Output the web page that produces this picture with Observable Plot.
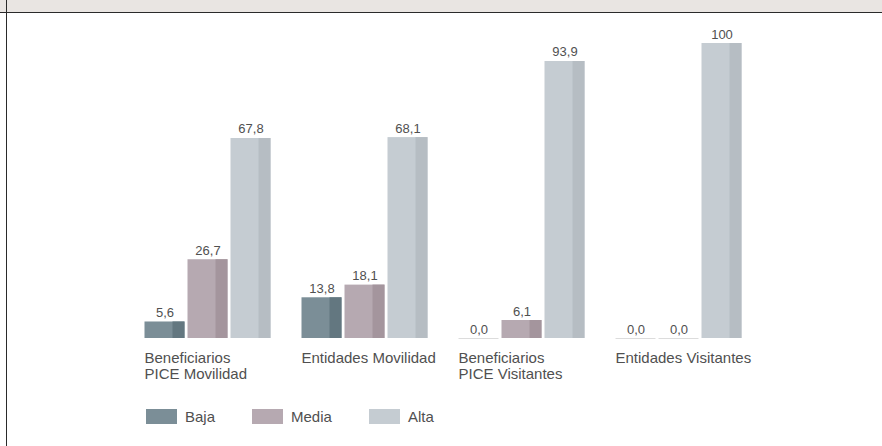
<!DOCTYPE html>
<html>
<head>
<meta charset="utf-8">
<script src="https://cdn.jsdelivr.net/npm/d3@7"></script>
<script src="https://cdn.jsdelivr.net/npm/@observablehq/plot@0.6"></script>
<style>
  html, body { margin: 0; padding: 0; background: #fff; }
  #wrap { position: relative; width: 882px; height: 446px; overflow: hidden; font-family: "Liberation Sans", Arial, Helvetica, sans-serif; }
  #header { position: absolute; left: 0; top: 0; width: 882px; height: 12px; background: #e9e5e2; border-bottom: 1.5px solid #2a2a2a; }
  #lborder { position: absolute; left: 5.5px; top: 0; width: 1.5px; height: 446px; background: #2a2a2a; }
  #chart { position: absolute; left: 0; top: 0; }
  #legend { position: absolute; left: 146px; top: 409px; display: flex; align-items: center; }
  .item { display: flex; align-items: center; margin-right: 37px; }
  .sw { width: 31px; height: 15px; margin-right: 8px; }
  .lab { font-size: 15px; color: #505050; line-height: 15px; }
</style>
</head>
<body>
<div id="wrap">
  <div id="header"></div>
  <div id="lborder"></div>
  <div id="chart"></div>
  <div id="legend"></div>
</div>
<script>
const categories = ["Beneficiarios\nPICE Movilidad", "Entidades Movilidad", "Beneficiarios\nPICE Visitantes", "Entidades Visitantes"];
const levels = ["Baja", "Media", "Alta"];
const baja = [5.6, 13.8, 0.0, 0.0];
const media = [26.7, 18.1, 6.1, 0.0];
const alta = [67.8, 68.1, 93.9, 100];
const lightColors = ["#7b8e97", "#b6a9b1", "#c5ccd2"];
const darkColors = ["#637780", "#a4959d", "#b6bdc3"];

const series = [baja, media, alta];
const data = [];
categories.forEach((c, i) => {
  levels.forEach((l, j) => data.push({cat: c, level: l, li: j, value: series[j][i]}));
});
const fmt = v => v === 100 ? "100" : v.toFixed(1).replace(".", ",");

const marks = [];
levels.forEach((l, j) => {
  const sub = data.filter(d => d.level === l && d.value > 0);
  marks.push(Plot.barY(sub, {fx: "cat", x: "level", y: "value", fill: lightColors[j]}));
  marks.push(Plot.barY(sub, {fx: "cat", x: "level", y: "value", fill: darkColors[j], insetLeft: 28}));
});
marks.push(Plot.tickY(data.filter(d => d.value === 0), {fx: "cat", x: "level", y: 0, stroke: "#dcdcdc", strokeWidth: 1}));
marks.push(Plot.text(data, {fx: "cat", x: "level", y: "value", text: d => fmt(d.value), dy: -5, lineAnchor: "bottom", fontSize: 13, fill: "#505050"}));
marks.push(Plot.text(categories, {fx: d => d, text: d => d, frameAnchor: "bottom-left", lineAnchor: "top", textAnchor: "start", dy: 12, fontSize: 15, lineHeight: 1.13, fill: "#505050"}));

const chart = Plot.plot({
  width: 882,
  height: 400,
  marginLeft: 143.5,
  marginRight: 140,
  marginTop: 43,
  marginBottom: 62,
  style: {fontFamily: "'Liberation Sans', Arial, Helvetica, sans-serif", background: "transparent", overflow: "visible"},
  fx: {domain: categories, paddingInner: 0.19, paddingOuter: 0, axis: null, label: null},
  x: {domain: levels, paddingInner: 0.08, paddingOuter: 0, axis: null, label: null},
  y: {domain: [0, 100], axis: null},
  marks
});
document.getElementById("chart").appendChild(chart);

const legend = document.getElementById("legend");
levels.forEach((l, j) => {
  const it = document.createElement("div");
  it.className = "item";
  const sw = document.createElement("div");
  sw.className = "sw";
  sw.style.background = lightColors[j];
  const lab = document.createElement("span");
  lab.className = "lab";
  lab.textContent = l;
  it.appendChild(sw); it.appendChild(lab);
  legend.appendChild(it);
});
</script>
</body>
</html>
